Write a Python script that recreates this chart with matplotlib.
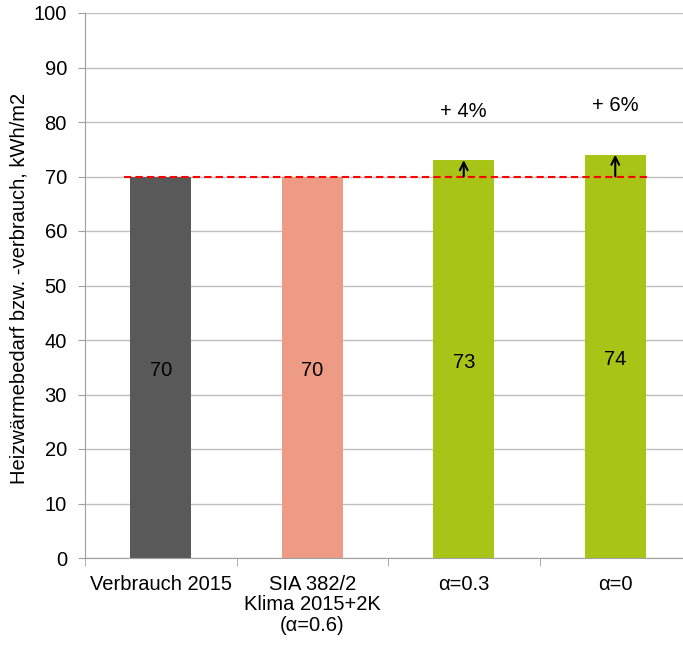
import numpy as np
import matplotlib.pyplot as plt

# data
categories = ["Verbrauch 2015", "SIA 382/2\nKlima 2015+2K\n(α=0.6)", "α=0.3", "α=0"]
values = [70, 70, 73, 74]
bar_labels = ["70", "70", "73", "74"]
bar_colors = ["#595959", "#EE9B85", "#A8C416", "#A8C416"]
reference = 70
increase_labels = [None, None, "+ 4%", "+ 6%"]

plt.rcParams["font.family"] = ["Liberation Sans", "DejaVu Sans"]

fig = plt.figure(figsize=(6.83, 6.45), dpi=100)
ax = fig.add_axes([85 / 683, 87 / 645, 606 / 683, 545 / 645])

x = np.arange(len(categories))
ax.bar(x, values, width=0.4, color=bar_colors, zorder=2)

# value labels in the middle of the bars
for xi, v, lab in zip(x, values, bar_labels):
    ax.text(xi, v / 2 - 0.6, lab, ha="center", va="center", fontsize=14.5, color="black", zorder=4)

# reference line at the 2015 consumption
ax.plot([-0.24, 3.22], [reference, reference], color="#FF0000", linestyle="--",
        linewidth=1.5, dashes=(3.5, 2), zorder=3)

# arrows + percentage increases
for xi, v, txt in zip(x, values, increase_labels):
    if txt is None:
        continue
    ax.annotate("", xy=(xi, v), xytext=(xi, reference),
                arrowprops=dict(arrowstyle="->", color="black", lw=1.5,
                                shrinkA=0, shrinkB=0, mutation_scale=14), zorder=4)
    ax.text(xi, v + 9, txt, ha="center", va="center", fontsize=14.5)

ax.set_xlim(-0.5, len(categories) - 0.5)
ax.set_ylim(0, 100)
ax.set_yticks(np.arange(0, 101, 10))
ax.tick_params(axis="y", labelsize=14.5, length=5, color="#A0A0A0", pad=8)

ax.set_xticks(x)
ax.set_xticklabels(categories, fontsize=14.5, linespacing=1.1)
ax.tick_params(axis="x", length=0, pad=12)
ax.set_xticks(np.arange(-0.5, len(categories), 1), minor=True)
ax.tick_params(axis="x", which="minor", length=6, color="#A0A0A0")

ax.grid(axis="y", color="#BFBFBF", linewidth=1, zorder=0)
ax.set_axisbelow(True)
for side in ["top", "right"]:
    ax.spines[side].set_visible(False)
for side in ["left", "bottom"]:
    ax.spines[side].set_color("#A0A0A0")

ax.set_ylabel("Heizwärmebedarf bzw. -verbrauch, kWh/m2", fontsize=14.5)
ax.yaxis.set_label_coords(-0.093, 0.494)

fig.savefig("out.png", dpi=100)
